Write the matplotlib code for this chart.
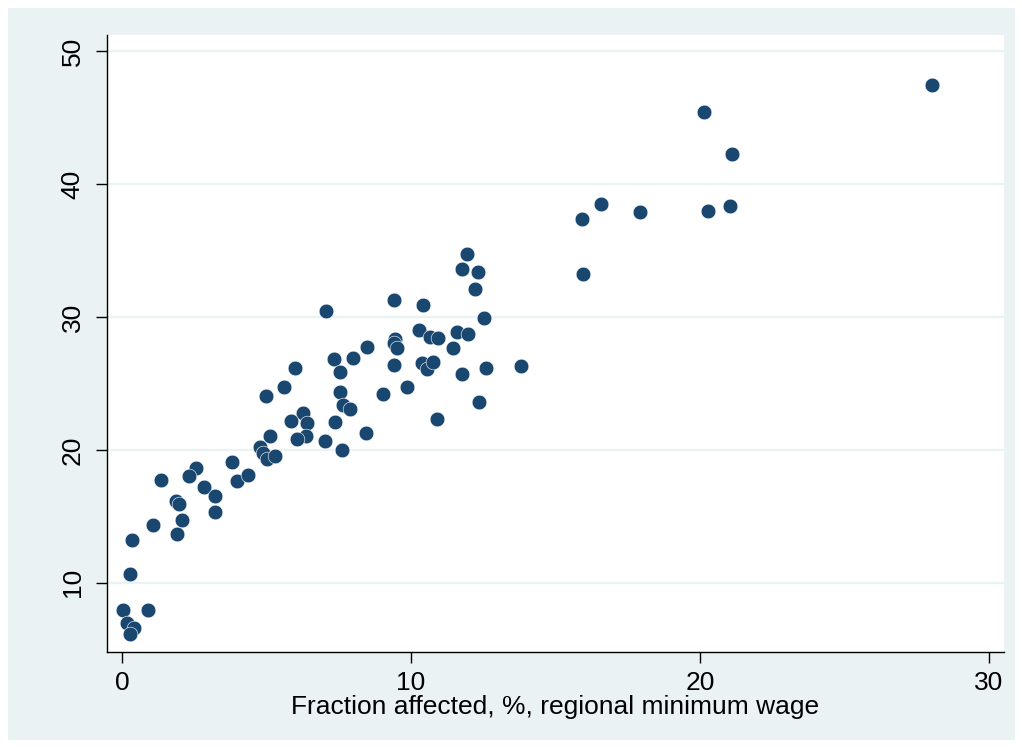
import matplotlib
matplotlib.use("Agg")
import matplotlib.pyplot as plt
from matplotlib.patches import Rectangle

# Data: fraction affected (%) vs y-value
frac_affected = [
    28.04, 20.14, 21.12, 15.91, 16.57, 17.93, 20.28, 21.03, 15.96,
    11.93, 11.76, 12.33, 12.21, 12.54,
    7.06, 9.41, 10.40, 10.29, 10.66, 10.92, 11.59, 11.96, 11.46,
    9.45, 9.41, 9.53, 9.40, 10.37, 10.55, 10.77, 11.75, 12.60, 13.81,
    9.85, 9.02, 12.36, 10.89,
    5.99, 4.98, 5.62, 7.35, 7.98, 8.49, 7.54, 7.53, 7.63, 7.89, 7.37,
    8.44, 7.60, 7.01, 6.25, 6.39, 5.86, 6.37, 6.04, 5.13, 4.78, 4.87,
    5.02, 5.29, 3.80, 2.56, 2.31, 3.99, 4.35,
    1.35, 2.85, 3.22, 3.22, 1.86, 1.97, 2.07, 1.07, 1.89, 0.35, 0.27,
    0.04, 0.89, 0.16, 0.40, 0.28,
]
outcome = [
    47.48, 45.47, 42.28, 37.39, 38.52, 37.89, 38.01, 38.39, 33.25,
    34.75, 33.62, 33.37, 32.08, 29.91,
    30.48, 31.29, 30.91, 29.03, 28.48, 28.43, 28.84, 28.70, 27.65,
    28.33, 28.07, 27.65, 26.37, 26.52, 26.11, 26.62, 25.70, 26.13, 26.32,
    24.71, 24.19, 23.63, 22.30,
    26.19, 24.04, 24.71, 26.83, 26.94, 27.73, 25.83, 24.34, 23.38, 23.06, 22.12,
    21.25, 20.01, 20.69, 22.76, 22.06, 22.20, 21.06, 20.80, 21.07, 20.20, 19.77,
    19.34, 19.56, 19.11, 18.64, 18.02, 17.66, 18.13,
    17.73, 17.18, 16.51, 15.30, 16.13, 15.90, 14.72, 14.34, 13.64, 13.19, 10.68,
    7.91, 7.94, 6.99, 6.57, 6.14,
]
x_ticks = [0, 10, 20, 30]
y_ticks = [10, 20, 30, 40, 50]
x_label = "Fraction affected, %, regional minimum wage"

W, H = 1022, 747
fig = plt.figure(figsize=(W / 100, H / 100), dpi=100)
fig.patch.set_facecolor("white")
bg = "#EAF2F3"
fig.patches.append(Rectangle((8 / W, 1 - 740 / H), (1015 - 8) / W, (740 - 8) / H,
                             transform=fig.transFigure, facecolor=bg,
                             edgecolor="none", zorder=0))

ax = fig.add_axes([107 / W, 1 - 652 / H, (1004 - 107) / W, (652 - 35) / H])
ax.set_facecolor("white")
ax.set_zorder(1)

font = ["Liberation Sans", "DejaVu Sans"]

ax.scatter(frac_affected, outcome, s=112, color="#1A476F", edgecolors="white",
           linewidths=0.4, zorder=3, clip_on=False)

ax.set_xlim(-0.52, 30.52)
ax.set_ylim(4.78, 51.24)
ax.set_xticks(x_ticks)
ax.set_yticks(y_ticks)
ax.set_xticklabels([str(t) for t in x_ticks], family=font, fontsize=19)
ax.set_yticklabels([str(t) for t in y_ticks], family=font, fontsize=19,
                   rotation=90, va="center")
ax.tick_params(axis="both", direction="out", length=8, width=1.0, color="black")
ax.tick_params(axis="y", pad=8)
ax.tick_params(axis="x", pad=6)

ax.yaxis.grid(True, color=bg, linewidth=1.6, zorder=1)
ax.set_axisbelow(True)
for side in ["top", "right"]:
    ax.spines[side].set_visible(False)
for side in ["left", "bottom"]:
    ax.spines[side].set_linewidth(1.0)
    ax.spines[side].set_color("black")

ax.set_xlabel(x_label, family=font, fontsize=19, labelpad=0)

fig.savefig("out.png", dpi=100, facecolor=fig.get_facecolor())
